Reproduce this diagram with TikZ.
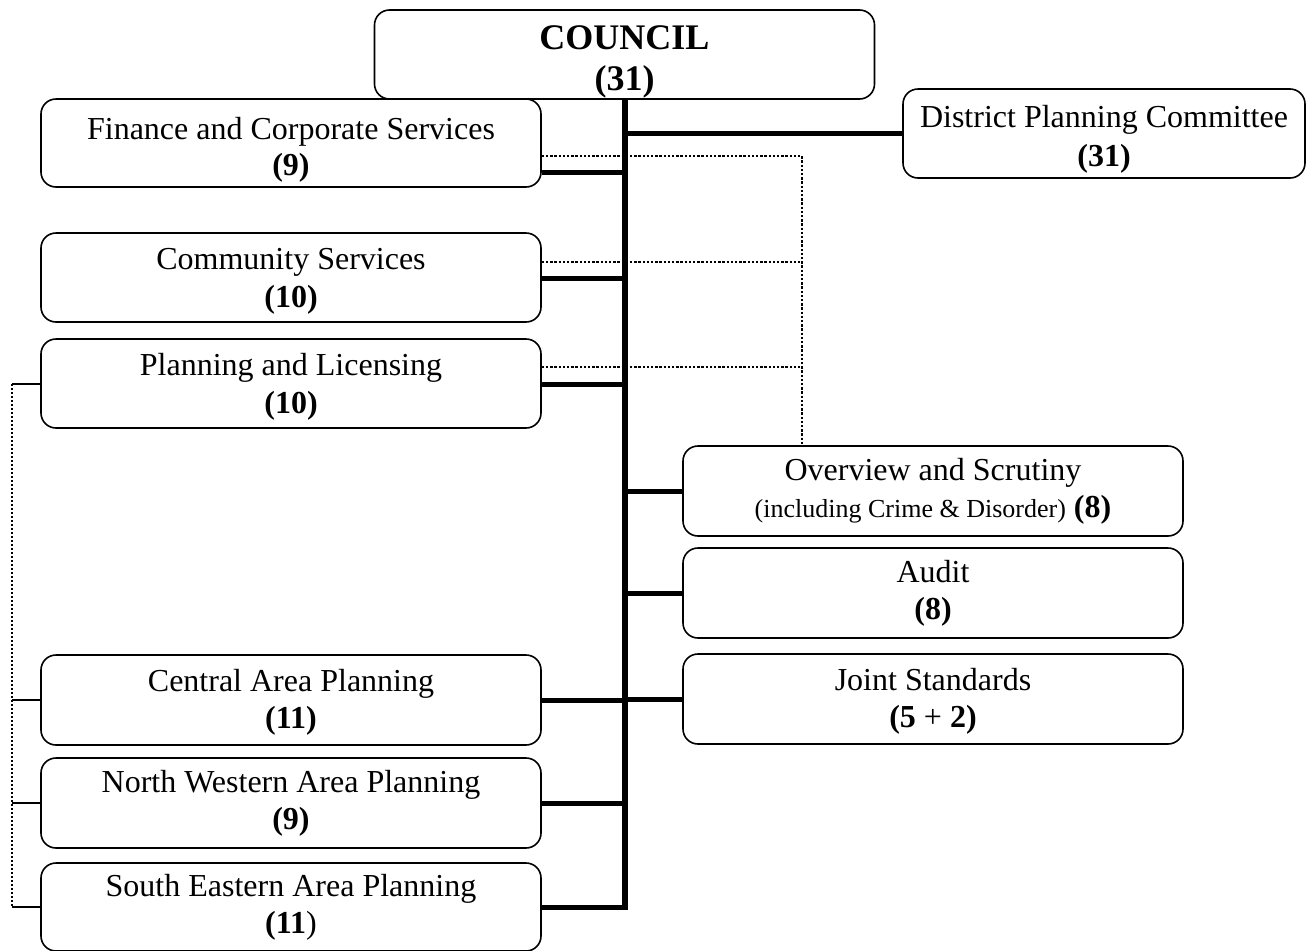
\documentclass[tikz,border=0pt]{standalone}
\usepackage{fontspec}
\setmainfont{Liberation Serif}
\newcommand\pushdn[1]{\rule{0pt}{#1pt}}
\begin{document}
\begin{tikzpicture}[x=1pt,y=-1pt,
  box/.style={draw, line width=1.6pt, rounded corners=15pt, align=center, inner sep=0pt, minimum width=500pt, minimum height=89pt, font=\fontsize{32}{37}\selectfont},
  trunkline/.style={line width=6pt},
  branch/.style={line width=5pt},
  dotline/.style={line width=2.6pt, dash pattern=on 2.4pt off 1.8pt},
  thinline/.style={line width=1.5pt},
  thindot/.style={line width=2.2pt, dash pattern=on 2.2pt off 1.8pt}]
\useasboundingbox (0,0) rectangle (1310,951);

% nodes
\node[box, font=\fontsize{36}{41}\selectfont\bfseries] (council) at (624.5,54.5) {\pushdn{38}COUNCIL\\(31)};
\node[box, minimum width=402pt, font=\fontsize{32}{39}\selectfont] (dpc) at (1104,133.5) {\pushdn{33}District Planning Committee\\\textbf{(31)}};
\node[box, minimum height=88pt, font=\fontsize{32}{36}\selectfont] (fin) at (291,143) {\pushdn{35}Finance and Corporate Services\\\textbf{(9)}};
\node[box, font=\fontsize{32}{38}\selectfont] (com) at (291,277.5) {\pushdn{29}Community Services\\\textbf{(10)}};
\node[box, font=\fontsize{32}{38}\selectfont] (pl) at (291,383.5) {\pushdn{29}Planning and Licensing\\\textbf{(10)}};
\node[box, minimum height=90pt] (ov) at (933,491) {Overview and Scrutiny\\{\fontsize{26}{30}\selectfont (including Crime \& Disorder)} \textbf{(8)}};
\node[box, minimum height=90pt] (au) at (933,593) {Audit\\\textbf{(8)}};
\node[box, minimum height=90pt] (js) at (933,699) {\pushdn{26}Joint Standards\\\textbf{(5} + \textbf{2)}};
\node[box, minimum height=90pt] (ca) at (291,700) {\pushdn{26}Central Area Planning\\\textbf{(11)}};
\node[box, minimum height=90pt] (nw) at (291,803) {North Western Area Planning\\\textbf{(9)}};
\node[box, minimum height=88pt] (se) at (291,907) {South Eastern Area Planning\\\textbf{(11})};

% dotted links on the right
\coordinate (dv) at (802,156);
\draw[dotline] (fin.east |- dv) -- (dv) -- (ov.north -| dv);
\draw[dotline] (com.east |- 0,262) -- (dv |- 0,262);
\draw[dotline] (pl.east |- 0,367) -- (dv |- 0,367);

% trunk
\coordinate (tb) at (624.5,910);
\draw[trunkline] (council.south) -- (tb);

% branches
\draw[branch] (council.south |- dpc.west) -- (dpc.west);
\draw[branch] (fin.east |- 0,172) -- (council.south |- 0,172);
\draw[branch] (com.east |- 0,278) -- (council.south |- 0,278);
\draw[branch] (pl.east |- 0,384) -- (council.south |- 0,384);
\draw[branch] (council.south |- ov.west) -- (ov.west);
\draw[branch] (council.south |- au.west) -- (au.west);
\draw[branch] (council.south |- js.west) -- (js.west);
\draw[branch] (ca.east) -- (council.south |- ca.east);
\draw[branch] (nw.east) -- (council.south |- nw.east);
\draw[branch] (se.east) -- (council.south |- se.east);

% left dotted links
\coordinate (lt) at (12,384);
\coordinate (lb) at (12,907);
\draw[thindot] (lt) -- (lb);
\draw[thinline] (lt) -- (pl.west |- lt);
\draw[thinline] (ca.west -| lt) -- (ca.west);
\draw[thinline] (nw.west -| lt) -- (nw.west);
\draw[thinline] (lb) -- (se.west |- lb);
\end{tikzpicture}
\end{document}
